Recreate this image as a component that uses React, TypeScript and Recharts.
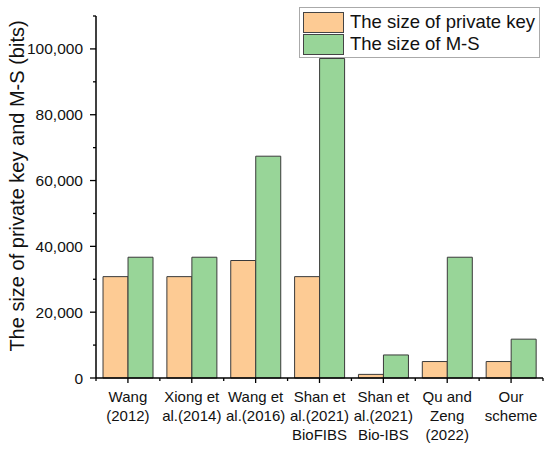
import { Bar, BarChart, Legend, XAxis, YAxis } from "recharts";

const categories = [
  "Wang\n(2012)",
  "Xiong et\nal.(2014)",
  "Wang et\nal.(2016)",
  "Shan et\nal.(2021)\nBioFIBS",
  "Shan et\nal.(2021)\nBio-IBS",
  "Qu and\nZeng\n(2022)",
  "Our\nscheme",
];
const seriesNames = ["The size of private key", "The size of M-S"];
const privateKeySize = [30800, 30800, 35700, 30800, 1100, 5000, 5000];
const msSize = [36700, 36700, 67400, 97100, 7000, 36700, 11800];
const yTicks = [0, 10000, 20000, 30000, 40000, 50000, 60000, 70000, 80000, 90000, 100000, 110000];

const data = categories.map((name, i) => ({ name, key: privateKeySize[i], ms: msSize[i] }));

const CHART_W = 550;
const CHART_H = 449;
const MARGIN = { top: 16, right: 7, left: 0, bottom: 0 };
const Y_WIDTH = 96;
const BAND = (CHART_W - Y_WIDTH - MARGIN.right) / categories.length;
const FONT = "Arial, 'Liberation Sans', sans-serif";

function XTick(props: any) {
  const { x, y, payload, index } = props;
  const axisY = y - 5 - 8;
  const lines = String(payload.value).split("\n");
  return (
    <g>
      <line x1={x - BAND / 2} x2={x - BAND / 2} y1={axisY} y2={axisY + 3} stroke="#000" strokeWidth={1.3} />
      {index === categories.length - 1 && (
        <line x1={x + BAND / 2} x2={x + BAND / 2} y1={axisY} y2={axisY + 3} stroke="#000" strokeWidth={1.3} />
      )}
      <text x={x} y={y} textAnchor="middle" fontSize={15} fontFamily={FONT} fill="#111">
        {lines.map((l, i) => (
          <tspan key={i} x={x} dy={i === 0 ? "0.71em" : 19}>
            {l}
          </tspan>
        ))}
      </text>
    </g>
  );
}

function YTick(props: any) {
  const { x, y, payload } = props;
  const axisX = x + 2 + 6;
  const major = payload.value % 20000 === 0;
  return (
    <g>
      <line x1={axisX - (major ? 6 : 3)} x2={axisX} y1={y} y2={y} stroke="#000" strokeWidth={1.3} />
      {major && (
        <text x={axisX - 13} y={y} dy="0.355em" textAnchor="end" fontSize={15.5} fontFamily={FONT} fill="#111">
          {payload.value.toLocaleString("en-US")}
        </text>
      )}
    </g>
  );
}

function LegendBox(props: any) {
  const items = [...(props.payload || [])].sort(
    (a: any, b: any) => seriesNames.indexOf(a.value) - seriesNames.indexOf(b.value)
  );
  return (
    <div
      style={{
        border: "1px solid #aaa",
        background: "#fff",
        padding: "3px 4px 2px 3px",
        fontFamily: FONT,
        fontSize: 18.5,
        color: "#111",
      }}
    >
      {items.map((p: any) => (
        <div key={p.value} style={{ display: "flex", alignItems: "center", height: 22 }}>
          <div style={{ width: 39, height: 19, background: p.color, border: "1px solid #444", marginRight: 6 }} />
          <span style={{ lineHeight: "20px", whiteSpace: "nowrap" }}>{p.value}</span>
        </div>
      ))}
    </div>
  );
}

export default function App() {
  return (
    <div style={{ position: "absolute", left: 0, top: 0, width: CHART_W, height: CHART_H, background: "#fff" }}>
      <BarChart width={CHART_W} height={CHART_H} data={data} margin={MARGIN} barGap={0} barCategoryGap="11%">
        <XAxis
          dataKey="name"
          interval={0}
          height={71}
          tickSize={5}
          tickMargin={8}
          tick={<XTick />}
          axisLine={{ stroke: "#000", strokeWidth: 1.5 }}
          tickLine={{ stroke: "#000", strokeWidth: 1.3 }}
        />
        <YAxis
          type="number"
          width={Y_WIDTH}
          domain={[0, 110000]}
          ticks={yTicks}
          interval={0}
          tickSize={6}
          tickMargin={2}
          tickLine={false}
          tick={<YTick />}
          axisLine={{ stroke: "#000", strokeWidth: 1.5 }}
          label={{
            value: "The size of private key and M-S (bits)",
            angle: -90,
            position: "center",
            dx: -31,
            dy: -11,
            style: { fontSize: 20, fontFamily: FONT, fill: "#111", textAnchor: "middle" },
          }}
        />
        <Legend
          layout="horizontal"
          verticalAlign="middle"
          align="center"
          content={<LegendBox />}
          wrapperStyle={{ top: 7, left: 299, width: "auto", height: "auto" }}
        />
        <Bar
          dataKey="key"
          name={seriesNames[0]}
          fill="#FDCB94"
          stroke="#3a3a3a"
          strokeWidth={1}
          isAnimationActive={false}
        />
        <Bar
          dataKey="ms"
          name={seriesNames[1]}
          fill="#98D598"
          stroke="#3a3a3a"
          strokeWidth={1}
          isAnimationActive={false}
        />
      </BarChart>
    </div>
  );
}
